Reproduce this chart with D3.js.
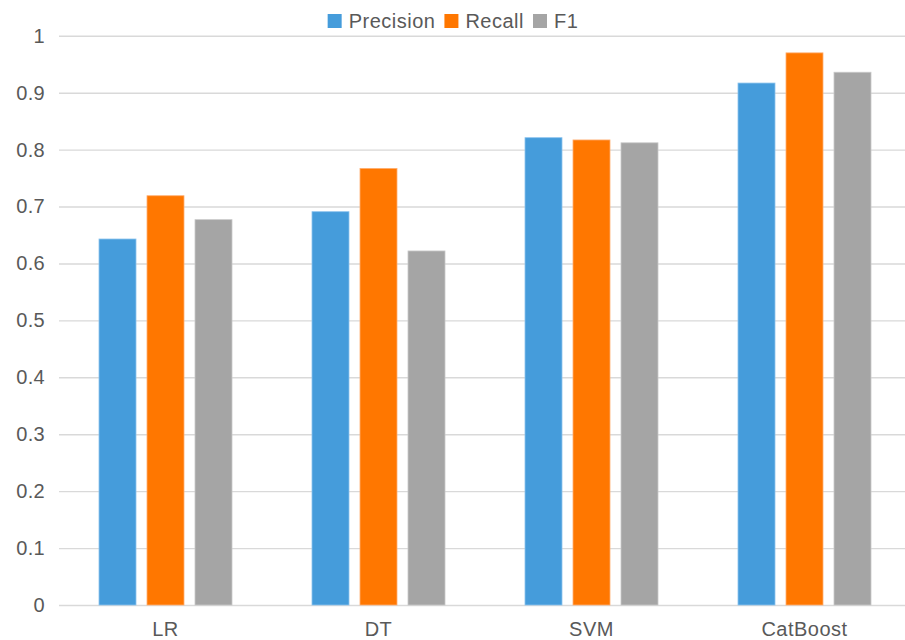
<!DOCTYPE html>
<html>
<head>
<meta charset="utf-8">
<script src="https://cdn.jsdelivr.net/npm/d3@7/dist/d3.min.js"></script>
<style>
  html, body { margin: 0; padding: 0; background: #ffffff; }
  svg { display: block; }
  text { font-family: "Liberation Sans", Arial, Helvetica, sans-serif; fill: #595959; }
</style>
</head>
<body>
<svg id="chart" width="905" height="640"></svg>
<script>
// ---- data ----
const categories = ["LR", "DT", "SVM", "CatBoost"];
const seriesNames = ["Precision", "Recall", "F1"];
const precision = [0.643, 0.691, 0.821, 0.917];
const recall    = [0.719, 0.767, 0.817, 0.970];
const f1        = [0.677, 0.622, 0.812, 0.936];
const yTicks = [0, 0.1, 0.2, 0.3, 0.4, 0.5, 0.6, 0.7, 0.8, 0.9, 1];

const seriesValues = [precision, recall, f1];
const colors = ["#459cdb", "#ff7700", "#a5a5a5"];
const strokes = ["#8cc4ee", "#ffae70", "#c9c9c9"];

const svg = d3.select("#chart");
const W = 905, H = 640;
const plotLeft = 59, plotRight = 911, plotTop = 35.8, plotBottom = 605;

const x0 = d3.scaleBand().domain(categories).range([plotLeft, plotRight]).padding(0);
const groupW = 133;
const x1 = d3.scaleBand().domain(seriesNames).range([0, groupW]).paddingInner(11 / 48).paddingOuter(0);
const y = d3.scaleLinear().domain([0, 1]).range([plotBottom, plotTop]);

// gridlines + y labels
const yAxis = d3.axisLeft(y).tickValues(yTicks)
  .tickSize(-(W - plotLeft))
  .tickPadding(14)
  .tickFormat(d => d === 0 ? "0" : d === 1 ? "1" : d3.format(".1f")(d));

const gy = svg.append("g").attr("transform", `translate(${plotLeft},0)`).call(yAxis);
gy.select(".domain").remove();
gy.selectAll(".tick line").attr("stroke", "#d9d9d9").attr("stroke-width", 1.4);
gy.selectAll(".tick text")
  .attr("font-size", 20)
  .attr("fill", "#595959")
  .style("letter-spacing", "0.3px");

// bars
const data = [];
categories.forEach((c, i) => {
  seriesNames.forEach((s, j) => {
    data.push({ cat: c, series: s, si: j, value: seriesValues[j][i] });
  });
});

const offset = (x0.bandwidth() - groupW) / 2;
svg.append("g").selectAll("rect").data(data).join("rect")
  .attr("x", d => x0(d.cat) + offset + x1(d.series))
  .attr("y", d => y(d.value))
  .attr("width", x1.bandwidth())
  .attr("height", d => y(0) - y(d.value))
  .attr("fill", d => colors[d.si])
  .attr("stroke", d => strokes[d.si])
  .attr("stroke-width", 0.8);

// x labels
const xAxis = d3.axisBottom(x0).tickSize(0).tickPadding(0);
const gx = svg.append("g").attr("transform", `translate(0,${plotBottom})`).call(xAxis);
gx.select(".domain").remove();
gx.selectAll(".tick text")
  .attr("font-size", 20)
  .attr("fill", "#595959")
  .attr("dy", null)
  .attr("y", 31)
  .style("letter-spacing", "0.5px");

// legend
const legend = svg.append("g");
const items = legend.selectAll("g").data(seriesNames).join("g");
items.append("rect")
  .attr("width", 14).attr("height", 14)
  .attr("y", 14)
  .attr("fill", (d, i) => colors[i]);
items.append("text")
  .attr("x", 21).attr("y", 28)
  .attr("font-size", 20)
  .style("letter-spacing", "0.5px")
  .text(d => d);
let cx = 0;
items.each(function () {
  const g = d3.select(this);
  g.attr("transform", `translate(${cx},0)`);
  const tw = g.select("text").node().getComputedTextLength();
  cx += 21 + tw + 9;
});
const totalW = cx - 9;
legend.attr("transform", `translate(${453 - totalW / 2},0)`);
</script>
</body>
</html>
